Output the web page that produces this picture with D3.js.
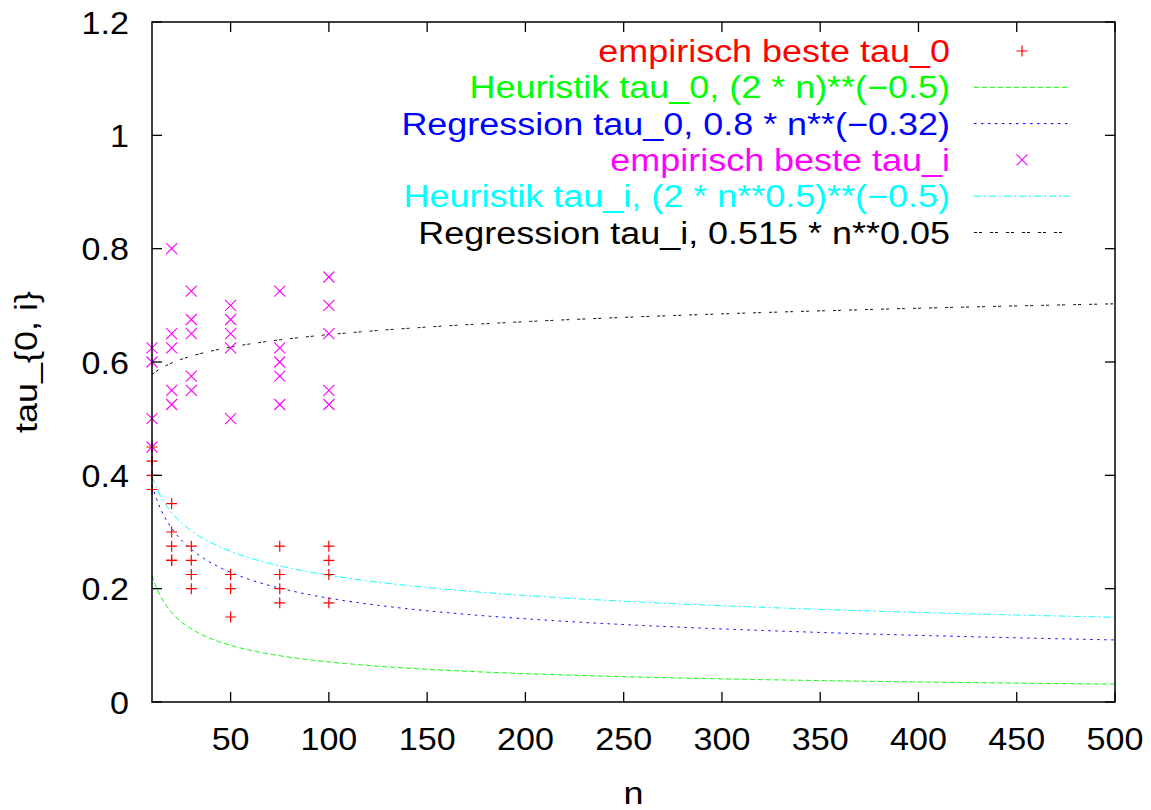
<!DOCTYPE html>
<html>
<head>
<meta charset="utf-8">
<script src="https://cdn.jsdelivr.net/npm/d3@7/dist/d3.min.js"></script>
<style>
  html, body { margin: 0; padding: 0; background: #fff; }
  svg { display: block; }
  text { font-family: "Liberation Sans", Arial, Helvetica, sans-serif; }
</style>
</head>
<body>
<svg id="chart" width="1151" height="810"></svg>
<script>
// ---- data ----
const xTicks = [50, 100, 150, 200, 250, 300, 350, 400, 450, 500];
const yTicks = [0, 0.2, 0.4, 0.6, 0.8, 1, 1.2];
const yTickLabels = ["0", "0.2", "0.4", "0.6", "0.8", "1", "1.2"];

// empirisch beste tau_0 : [n, tau]
const bestTau0 = [
  [10, 0.45], [10, 0.425], [10, 0.4], [10, 0.375],
  [20, 0.35], [20, 0.3], [20, 0.275], [20, 0.25], [20, 0.25],
  [30, 0.275], [30, 0.25], [30, 0.225], [30, 0.2],
  [50, 0.225], [50, 0.2], [50, 0.15],
  [75, 0.275], [75, 0.225], [75, 0.2], [75, 0.175],
  [100, 0.275], [100, 0.25], [100, 0.225], [100, 0.175]
];
// empirisch beste tau_i : [n, tau]
const bestTaui = [
  [10, 0.625], [10, 0.6], [10, 0.5], [10, 0.45],
  [20, 0.8], [20, 0.65], [20, 0.625], [20, 0.55], [20, 0.525],
  [30, 0.725], [30, 0.675], [30, 0.65], [30, 0.575], [30, 0.55],
  [50, 0.7], [50, 0.675], [50, 0.65], [50, 0.625], [50, 0.5],
  [75, 0.725], [75, 0.625], [75, 0.6], [75, 0.575], [75, 0.525],
  [100, 0.75], [100, 0.7], [100, 0.65], [100, 0.55], [100, 0.525]
];

// fitted / heuristic curves as given in the legend: factor * (base * n**p)**q
const heurTau0 = { factor: 1, base: 2, p: 1, q: -0.5 };      // (2 * n)**(-0.5)
const regTau0  = { factor: 0.8, base: 1, p: -0.32, q: 1 };   // 0.8 * n**(-0.32)
const heurTaui = { factor: 1, base: 2, p: 0.5, q: -0.5 };    // (2 * n**0.5)**(-0.5)
const regTaui  = { factor: 0.515, base: 1, p: 0.05, q: 1 };  // 0.515 * n**0.05
const nRange = [10, 500];

const legendLabels = [
  "empirisch beste tau_0",
  "Heuristik tau_0, (2 * n)**(\u22120.5)",
  "Regression tau_0, 0.8 * n**(\u22120.32)",
  "empirisch beste tau_i",
  "Heuristik tau_i, (2 * n**0.5)**(\u22120.5)",
  "Regression tau_i, 0.515 * n**0.05"
];
const colors = ["#ff0000", "#00ff00", "#0000ff", "#ff00ff", "#00ffff", "#000000"];
const dashes = [null, "5,3", "2.5,4.5", null, "7,3,2,3", "3,2,3,8"];

// ---- layout ----
const svg = d3.select("#chart");
const L = 152, R = 1115, T = 22, B = 702;
const x = d3.scaleLinear().domain(nRange).range([L, R]);
const y = d3.scaleLinear().domain([0, 1.2]).range([B, T]);
const fontSize = 31;
const tickStretch = 1.1, labelStretch = 1.16;

// clip
svg.append("defs").append("clipPath").attr("id", "clip")
  .append("rect").attr("x", L).attr("y", T).attr("width", R - L).attr("height", B - T);

// curves
function curveData(c) {
  const pts = [];
  const N = 600;
  for (let i = 0; i <= N; i++) {
    const n = nRange[0] + (nRange[1] - nRange[0]) * i / N;
    pts.push([n, c.factor * Math.pow(c.base * Math.pow(n, c.p), c.q)]);
  }
  return pts;
}
const line = d3.line().x(d => x(d[0])).y(d => y(d[1]));
const curves = [[heurTau0, 1], [regTau0, 2], [heurTaui, 4], [regTaui, 5]];
const gCurves = svg.append("g").attr("clip-path", "url(#clip)");
curves.forEach(([c, idx]) => {
  gCurves.append("path")
    .attr("d", line(curveData(c)))
    .attr("fill", "none")
    .attr("stroke", colors[idx])
    .attr("stroke-width", 1)
    .attr("stroke-dasharray", dashes[idx]);
});

// point markers
function plus(g, cx, cy, col) {
  const s = 5.5;
  g.append("path").attr("d", `M${cx - s},${cy}H${cx + s}M${cx},${cy - s}V${cy + s}`)
    .attr("stroke", col).attr("stroke-width", 1.2).attr("fill", "none");
}
function cross(g, cx, cy, col) {
  const s = 5.5;
  g.append("path").attr("d", `M${cx - s},${cy - s}L${cx + s},${cy + s}M${cx - s},${cy + s}L${cx + s},${cy - s}`)
    .attr("stroke", col).attr("stroke-width", 1.1).attr("fill", "none");
}
const gPts = svg.append("g");
bestTaui.forEach(d => cross(gPts, x(d[0]), y(d[1]), colors[3]));
bestTau0.forEach(d => plus(gPts, x(d[0]), y(d[1]), colors[0]));

// frame
svg.append("rect").attr("x", L).attr("y", T).attr("width", R - L).attr("height", B - T)
  .attr("fill", "none").attr("stroke", "#000").attr("stroke-width", 1.5);

// ticks (inward, mirrored)
const tl = 10;
const gAx = svg.append("g").attr("stroke", "#000").attr("stroke-width", 1.3);
xTicks.forEach(t => {
  gAx.append("line").attr("x1", x(t)).attr("x2", x(t)).attr("y1", B).attr("y2", B - tl);
  gAx.append("line").attr("x1", x(t)).attr("x2", x(t)).attr("y1", T).attr("y2", T + tl);
});
yTicks.forEach(t => {
  gAx.append("line").attr("x1", L).attr("x2", L + tl).attr("y1", y(t)).attr("y2", y(t));
  gAx.append("line").attr("x1", R).attr("x2", R - tl).attr("y1", y(t)).attr("y2", y(t));
});

// text helper with horizontal stretch
function stext(px, py, str, anchor, stretch, fill, rot) {
  return svg.append("text")
    .attr("transform", `translate(${px},${py})${rot ? " rotate(" + rot + ")" : ""} scale(${stretch},1)`)
    .attr("text-anchor", anchor).attr("font-size", fontSize)
    .attr("fill", fill || "#000").text(str);
}

// tick labels
xTicks.forEach(t => stext(x(t), 750, String(t), "middle", tickStretch));
yTicks.forEach((t, i) => stext(129, y(t) + 11.5, yTickLabels[i], "end", tickStretch));

// axis labels
stext((L + R) / 2, 804, "n", "middle", labelStretch);
stext(37, (T + B) / 2, "tau_{0, i}", "middle", labelStretch, "#000", -90);

// legend
const legTextX = 950, legX1 = 974, legX2 = 1070, legY0 = 51, legDy = 36.3;
legendLabels.forEach((lab, i) => {
  const ly = legY0 + i * legDy;
  stext(legTextX, ly + 11, lab, "end", labelStretch, colors[i]);
  if (i === 0) plus(svg, (legX1 + legX2) / 2, ly, colors[i]);
  else if (i === 3) cross(svg, (legX1 + legX2) / 2, ly, colors[i]);
  else svg.append("line").attr("x1", legX1).attr("x2", legX2).attr("y1", ly).attr("y2", ly)
    .attr("stroke", colors[i]).attr("stroke-width", 1).attr("stroke-dasharray", dashes[i]);
});
</script>
</body>
</html>
